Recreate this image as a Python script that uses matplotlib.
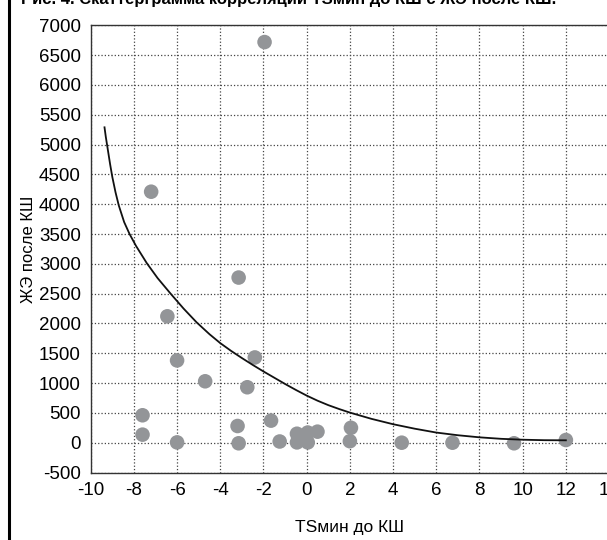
import matplotlib
matplotlib.use("Agg")
import matplotlib.pyplot as plt
from matplotlib.lines import Line2D

plt.rcParams['font.family'] = ['Liberation Sans', 'DejaVu Sans']
plt.rcParams['axes.unicode_minus'] = False

# scatter points: TSмин до КШ vs ЖЭ после КШ
ts_min = [-1.95, -7.2, -3.15, -6.45, -6.0, -2.4, -4.7, -2.75, -7.6, -7.6,
          -6.0, -3.2, -3.15, -1.65, -1.25, -0.45, -0.45, 0.05, 0.05, 0.5,
          2.05, 2.0, 4.4, 6.75, 9.6, 12.0]
gje_after = [6720, 4210, 2770, 2120, 1380, 1430, 1030, 930, 460, 135,
             5, 280, -10, 370, 20, 150, 5, 170, 5, 185,
             250, 25, 0, 0, -10, 45]

# trend curve
trend_x = [-9.36, -9.3, -9.2, -9.1, -9.0, -8.85, -8.7, -8.45, -8.2, -7.9,
           -7.4, -6.9, -6.3, -5.7, -5.1, -4.5, -4.0, -3.5, -3.0, -2.5,
           -2.0, -1.5, -1.0, -0.5, 0, 0.5, 1, 1.5, 2, 3, 4, 5, 6, 7, 8,
           9, 10, 11, 12]
trend_y = [5290, 5130, 4900, 4670, 4460, 4200, 3980, 3700, 3500, 3300,
           3010, 2760, 2500, 2250, 2020, 1820, 1670, 1540, 1420, 1305,
           1195, 1090, 985, 885, 790, 705, 630, 565, 505, 400, 310, 235,
           170, 125, 90, 65, 50, 42, 40]

x_ticks = list(range(-10, 15, 2))
y_ticks = list(range(-500, 7001, 500))

fig = plt.figure(figsize=(6.07, 5.40), dpi=100)
ax = fig.add_axes([0.1494, 0.125, 0.854, 0.828])

ax.scatter(ts_min, gje_after, s=110, color='#939598', edgecolors='none', zorder=3)
ax.plot(trend_x, trend_y, color='#111111', lw=1.3, zorder=4)

ax.set_xlim(-10, 14)
ax.set_ylim(-500, 7000)
ax.set_xticks(x_ticks)
ax.set_yticks(y_ticks)
ax.tick_params(length=0, pad=7, labelsize=13.5)
ax.grid(True, linestyle=':', color='#444444', lw=0.9)
ax.set_axisbelow(True)
for sp in ax.spines.values():
    sp.set_color('#333333')
    sp.set_linewidth(1)

ax.set_xlabel('TSмин до КШ', fontsize=12.5, labelpad=15)
ax.set_ylabel('ЖЭ после КШ', fontsize=12, labelpad=2)

fig.text(0.035, 0.993, 'Рис. 4. Скаттерграмма корреляции TSмин до КШ с ЖЭ после КШ.',
         fontsize=12, fontweight='bold', va='baseline', ha='left')
fig.add_artist(Line2D([8.7 / 607, 8.7 / 607], [0, 1], color='black', lw=2.2))

fig.savefig('out.png', dpi=100)
